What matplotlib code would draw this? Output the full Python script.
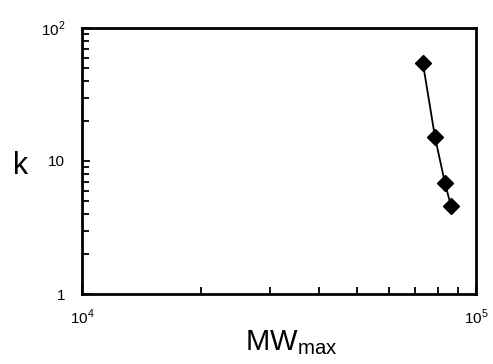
import matplotlib.pyplot as plt
from matplotlib.ticker import FixedLocator, LogLocator, NullFormatter

# data
mw_max = [73300, 78700, 83400, 86400]
k_vals = [54.6, 15.1, 6.84, 4.59]

y_ticks = [1, 10, 100]
y_labels = ['1', '10', r'$10^2$']
x_ticks = [1e4, 1e5]
x_labels = [r'$10^4$', r'$10^5$']

plt.rcParams['font.family'] = ['Liberation Sans', 'DejaVu Sans']
plt.rcParams['mathtext.fontset'] = 'custom'
plt.rcParams['mathtext.rm'] = 'Liberation Sans'

fig = plt.figure(figsize=(4.93, 3.64), dpi=100)
ax = fig.add_axes([82 / 493, 1 - 294 / 364, 394 / 493, 266 / 364])

ax.plot(mw_max, k_vals, color='black', lw=1.3, marker='D', markersize=8,
        markerfacecolor='black', markeredgecolor='black')

ax.set_xscale('log')
ax.set_yscale('log')
ax.set_xlim(1e4, 1e5)
ax.set_ylim(1, 100)

ax.yaxis.set_major_locator(FixedLocator(y_ticks))
ax.set_yticklabels(y_labels)
ax.xaxis.set_major_locator(FixedLocator(x_ticks))
ax.set_xticklabels(x_labels)
ax.xaxis.set_minor_locator(LogLocator(base=10, subs=range(2, 10)))
ax.yaxis.set_minor_locator(LogLocator(base=10, subs=range(2, 10)))
ax.xaxis.set_minor_formatter(NullFormatter())
ax.yaxis.set_minor_formatter(NullFormatter())

for s in ax.spines.values():
    s.set_linewidth(2)

ax.tick_params(which='both', direction='in', top=False, right=False,
               labelsize=11, width=1.3)
ax.tick_params(which='major', length=6)
ax.tick_params(which='minor', length=5)
ax.tick_params(axis='x', which='major', pad=10)
ax.tick_params(axis='y', which='major', pad=12)

ax.set_ylabel('k', fontsize=22, rotation=0, va='center')
ax.yaxis.set_label_coords(-0.155, 0.48)
ax.set_xlabel(r'MW$_{\mathrm{max}}$', fontsize=21, va='bottom')
ax.xaxis.set_label_coords(0.53, -0.235)

fig.savefig('out.png', dpi=100)
plt.close()
